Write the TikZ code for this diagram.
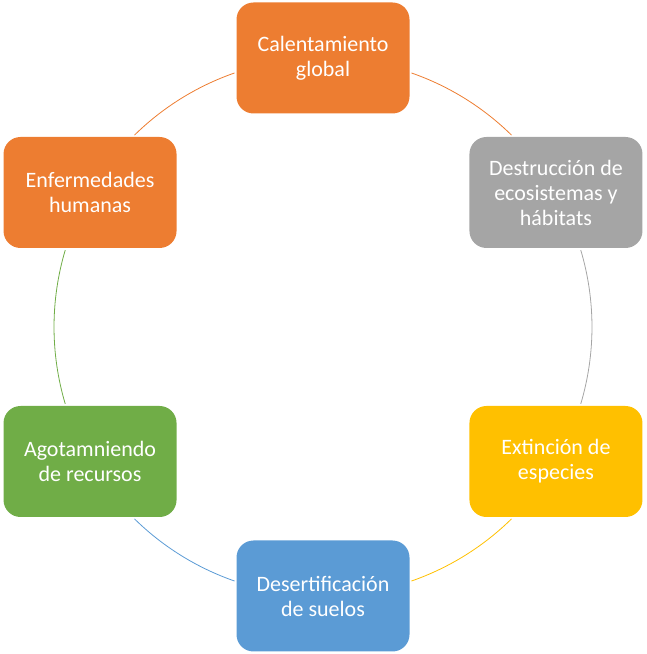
\documentclass[tikz,border=0pt]{standalone}
\usepackage{fontspec}
\setmainfont{Carlito}
\usetikzlibrary{calc}
\definecolor{corange}{HTML}{ED7D31}
\definecolor{cgray}{HTML}{A5A5A5}
\definecolor{cyellow}{HTML}{FFC000}
\definecolor{cblue}{HTML}{5B9BD5}
\definecolor{cgreen}{HTML}{70AD47}
\begin{document}
\begin{tikzpicture}[x=1pt,y=1pt,
  box/.style={rectangle, rounded corners=17pt, minimum width=173pt, minimum height=111pt,
    inner sep=0pt, align=center, text=white, font=\fontsize{22}{25}\selectfont},
  link/.style={line width=0.8pt}]
\useasboundingbox (0,0) rectangle (646,654);
\coordinate (c) at (323,327);
\def\R{269}
\node[box, fill=corange] (n1) at ($(c)+(90:\R)$) {Calentamiento\\global};
\node[box, fill=cgray] (n2) at ($(c)+(30:\R)$) {Destrucción de\\ecosistemas y\\hábitats};
\node[box, fill=cyellow] (n3) at ($(c)+(-30:\R)$) {Extinción de\\especies};
\node[box, fill=cblue] (n4) at ($(c)+(-90:\R)$) {Desertificación\\de suelos};
\node[box, fill=cgreen] (n5) at ($(c)+(-150:\R)$) {Agotamniendo\\de recursos};
\node[box, fill=corange] (n6) at ($(c)+(150:\R)$) {Enfermedades\\humanas};
\draw[link, corange] ($(c)+(70.8:\R)$) arc[start angle=70.8, end angle=45.5, radius=\R];
\draw[link, cgray] ($(c)+(16.6:\R)$) arc[start angle=16.6, end angle=-16.6, radius=\R];
\draw[link, cyellow] ($(c)+(-45.5:\R)$) arc[start angle=-45.5, end angle=-70.8, radius=\R];
\draw[link, cblue] ($(c)+(-109.2:\R)$) arc[start angle=-109.2, end angle=-134.5, radius=\R];
\draw[link, cgreen] ($(c)+(-163.4:\R)$) arc[start angle=-163.4, end angle=-196.6, radius=\R];
\draw[link, corange] ($(c)+(134.5:\R)$) arc[start angle=134.5, end angle=109.2, radius=\R];
\end{tikzpicture}
\end{document}
